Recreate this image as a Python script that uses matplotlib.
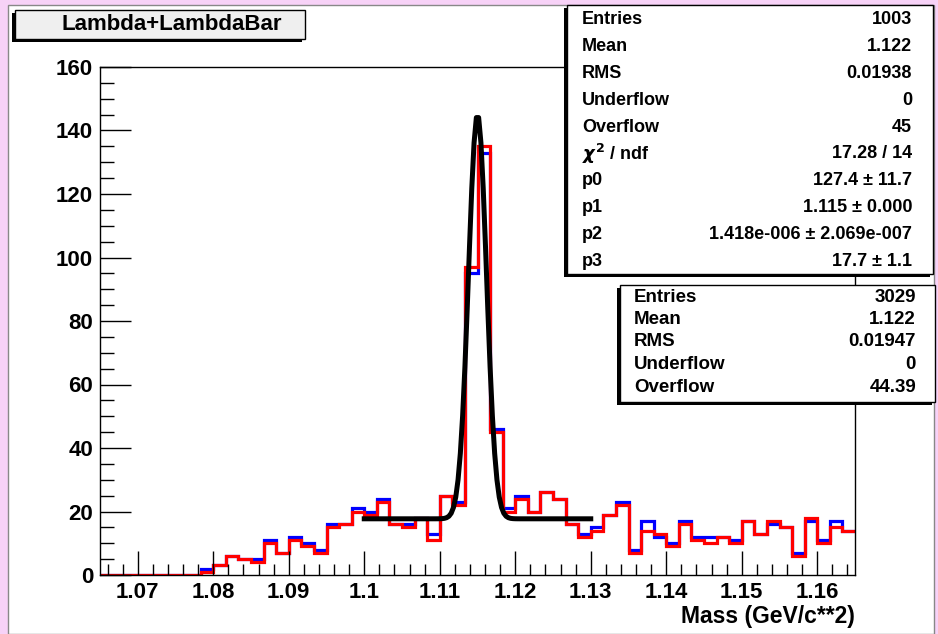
import matplotlib.pyplot as plt
import numpy as np
from matplotlib.patches import Rectangle

plt.rcParams['font.family'] = ['Liberation Sans', 'DejaVu Sans']
plt.rcParams['font.weight'] = 'bold'

W, H = 938, 634

# histogram binning (GeV/c^2)
x_min, x_max, n_bins = 1.065, 1.165, 60
edges = np.linspace(x_min, x_max, n_bins + 1)

# counts per bin
red_counts = [0] * 8 + [1, 3, 6, 5, 4, 10, 7, 11, 9, 7, 15, 16, 20, 19, 23, 16, 15, 18, 11, 25,
                        22, 97, 135, 45, 20, 24, 20, 26, 24, 16, 12, 14, 19, 22, 7, 14, 13, 9, 16, 11,
                        10, 12, 10, 17, 13, 17, 15, 6, 18, 10, 15, 14]
blue_counts = [0] * 8 + [2, 3, 6, 5, 5, 11, 7, 12, 10, 8, 16, 16, 21, 20, 24, 16, 16, 18, 13, 25,
                         23, 95, 133, 46, 21, 25, 20, 26, 24, 16, 13, 15, 19, 23, 8, 17, 12, 10, 17, 12,
                         12, 12, 11, 17, 13, 16, 15, 7, 17, 11, 17, 14]

# gaussian + constant fit
fit_params = [127.4, 1.115, 1.418e-6, 17.7]
fit_range = (1.10, 1.13)

stats_red = [("Entries", "1003"), ("Mean", "1.122"), ("RMS", "0.01938"),
             ("Underflow", "0"), ("Overflow", "45"), (r"$\chi^{2}$ / ndf", "17.28 / 14"),
             ("p0", "127.4 \u00b1 11.7"), ("p1", "1.115 \u00b1 0.000"),
             ("p2", "1.418e-006 \u00b1 2.069e-007"), ("p3", "17.7 \u00b1 1.1")]
stats_blue = [("Entries", "3029"), ("Mean", "1.122"), ("RMS", "0.01947"),
              ("Underflow", "0"), ("Overflow", "44.39")]


def fx(x):
    return x / W


def fy(y):
    return 1 - y / H


def box(x0, y0, x1, y1, face, shadow=3, z=5):
    # box with a dark shadow towards the lower left, pixel coords from top-left
    fig.add_artist(Rectangle((fx(x0 - shadow), fy(y1 + shadow)), fx(x1 - x0), (y1 - y0) / H,
                             transform=fig.transFigure, facecolor='black', edgecolor='black',
                             lw=0, zorder=z))
    fig.add_artist(Rectangle((fx(x0), fy(y1)), fx(x1 - x0), (y1 - y0) / H,
                             transform=fig.transFigure, facecolor=face, edgecolor='black',
                             lw=1, zorder=z + 0.1))


fig = plt.figure(figsize=(W / 100, H / 100), dpi=100, facecolor='#f7d2f7')

# white canvas
fig.add_artist(Rectangle((fx(8), 0), fx(926), fy(5), transform=fig.transFigure,
                         facecolor='white', edgecolor='#888888', lw=1, zorder=0))

ax = fig.add_axes([fx(100), fy(575), fx(755), (575 - 67) / H])
ax.set_facecolor('white')

ax.stairs(blue_counts, edges, baseline=None, color='blue', lw=2.3)
ax.stairs(red_counts, edges, baseline=None, color='red', lw=2.3)

xf = np.linspace(fit_range[0], fit_range[1], 100)
p0, p1, p2, p3 = fit_params
yf = p0 * np.exp(-0.5 * (xf - p1) ** 2 / p2) + p3
ax.plot(xf, yf, color='black', lw=3.6)

ax.set_xlim(x_min, x_max)
ax.set_ylim(0, 160)
ax.set_xticks(np.arange(1.07, 1.1601, 0.01))
ax.set_xticklabels(["%g" % round(t, 2) for t in np.arange(1.07, 1.1601, 0.01)])
ax.set_xticks(np.arange(1.066, 1.165, 0.002), minor=True)
ax.set_yticks(np.arange(0, 161, 20))
ax.set_yticks(np.arange(0, 161, 5), minor=True)
ax.tick_params(which='both', direction='in', top=False, right=False, labelsize=16,
               width=1, color='black')
ax.tick_params(axis='x', which='major', length=17, pad=5)
ax.tick_params(axis='x', which='minor', length=8)
ax.tick_params(axis='y', which='major', length=22, pad=5)
ax.tick_params(axis='y', which='minor', length=10)
for s in ax.spines.values():
    s.set_linewidth(1)

fig.text(fx(855), fy(616), "Mass (GeV/c**2)", ha='right', va='center', fontsize=16.5,
         fontweight='bold')

# title box
box(15, 10, 305, 39, '#efefef')
fig.text(fx(172), fy(24), "Lambda+LambdaBar", ha='center', va='center', fontsize=16,
         fontweight='bold', zorder=7)

# stats box of the fitted histogram
box(567, 5, 933, 274, 'white', z=8)
for i, (k, v) in enumerate(stats_red):
    y = 20 + i * 26.8
    fig.text(fx(582), fy(y), k, ha='left', va='center', fontsize=13, zorder=9)
    fig.text(fx(912), fy(y), v, ha='right', va='center', fontsize=13, zorder=9)

# stats box of the second histogram
box(620, 285, 935, 402, 'white', z=8)
for i, (k, v) in enumerate(stats_blue):
    y = 297 + i * 22.5
    fig.text(fx(634), fy(y), k, ha='left', va='center', fontsize=13.5, zorder=9)
    fig.text(fx(916), fy(y), v, ha='right', va='center', fontsize=13.5, zorder=9)

fig.savefig("out.png", dpi=100, facecolor=fig.get_facecolor())
